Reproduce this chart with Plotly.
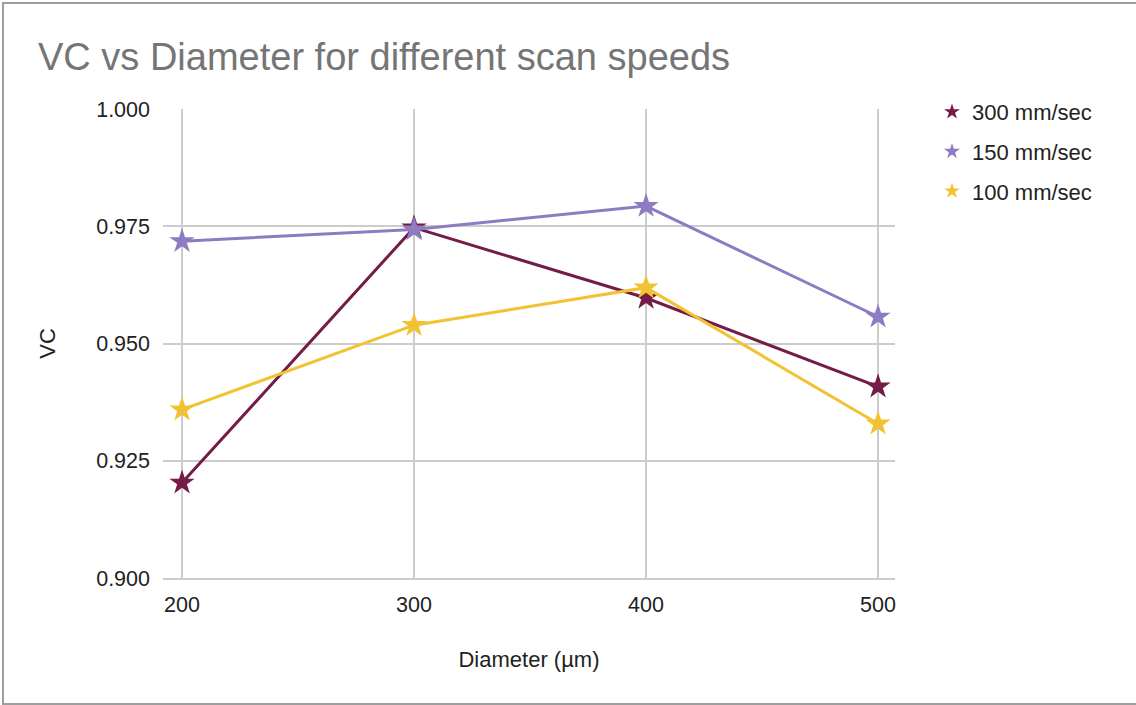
import plotly.graph_objects as go

# Diameter (µm) on the x axis
diameters = [200, 300, 400, 500]

# VC measured at each diameter, one list per scan speed
vc_300 = [0.9203, 0.9747, 0.9597, 0.9408]
vc_150 = [0.9718, 0.9743, 0.9793, 0.9557]
vc_100 = [0.9359, 0.9539, 0.9619, 0.9329]

series_names = ["300 mm/sec", "150 mm/sec", "100 mm/sec"]
series_colors = ["#741b47", "#8e7cc3", "#f1c232"]
series_values = [vc_300, vc_150, vc_100]

y_ticks = [0.900, 0.925, 0.950, 0.975, 1.000]
x_ticks = diameters

FONT = "Liberation Sans, Arial, Helvetica, sans-serif"
W, H = 1136, 705
ML, MR, MT, MB = 163, 241, 109, 127
PW, PH = W - ML - MR, H - MT - MB

fig = go.Figure()

for name, color, vals in zip(series_names, series_colors, series_values):
    # connecting line (kept out of the legend)
    fig.add_trace(go.Scatter(
        x=diameters, y=vals, mode="lines",
        line=dict(color=color, width=3),
        showlegend=False, hoverinfo="skip", legendgroup=name,
    ))
    # star markers, which also provide the legend symbol
    fig.add_trace(go.Scatter(
        x=diameters, y=vals, mode="markers", name=name,
        marker=dict(symbol="star", size=19, color=color,
                    line=dict(width=0)),
        legendgroup=name,
    ))


def px_x(p):
    return (p - ML) / PW


def px_y(p):
    return (H - MB - p) / PH


fig.update_layout(
    width=W, height=H,
    margin=dict(l=ML, r=MR, t=MT, b=MB),
    paper_bgcolor="white", plot_bgcolor="white",
    font=dict(family=FONT, size=22, color="#222222"),
    title=dict(
        text="VC vs Diameter for different scan speeds",
        font=dict(family=FONT, size=38, color="#757575"),
        x=38 / W, xref="container", xanchor="left",
        y=1 - 57 / H, yref="container", yanchor="middle",
    ),
    xaxis=dict(
        range=[191.8, 507.3], tickvals=x_ticks,
        ticktext=[str(v) for v in x_ticks],
        showgrid=True, gridcolor="#cccccc", gridwidth=1.5,
        zeroline=False, showline=True, linecolor="#cccccc", linewidth=1.5,
        ticks="", ticklabelstandoff=6,
        tickfont=dict(size=21.5, color="#222222"),
        title=dict(text="Diameter (µm)", standoff=36,
                   font=dict(size=22, color="#222222")),
    ),
    yaxis=dict(
        range=[0.9, 1.0], tickvals=y_ticks,
        ticktext=[f"{v:.3f}" for v in y_ticks],
        showgrid=True, gridcolor="#cccccc", gridwidth=1.5,
        zeroline=False, showline=False,
        ticks="", ticklabelstandoff=12,
        tickfont=dict(size=21.5, color="#222222"),
        title=dict(text="VC", standoff=34,
                   font=dict(size=22, color="#222222")),
    ),
    legend=dict(
        x=px_x(932), xanchor="left", y=px_y(91), yanchor="top",
        font=dict(size=22, color="#222222"),
        tracegroupgap=8, itemsizing="constant",
        bgcolor="rgba(0,0,0,0)",
    ),
    shapes=[
        # chart frame
        dict(type="rect", xref="paper", yref="paper",
             x0=px_x(3), x1=px_x(W + 10), y0=px_y(704), y1=px_y(3),
             line=dict(color="#9e9e9e", width=2), layer="below"),
    ],
)

fig.write_html("out.html")
